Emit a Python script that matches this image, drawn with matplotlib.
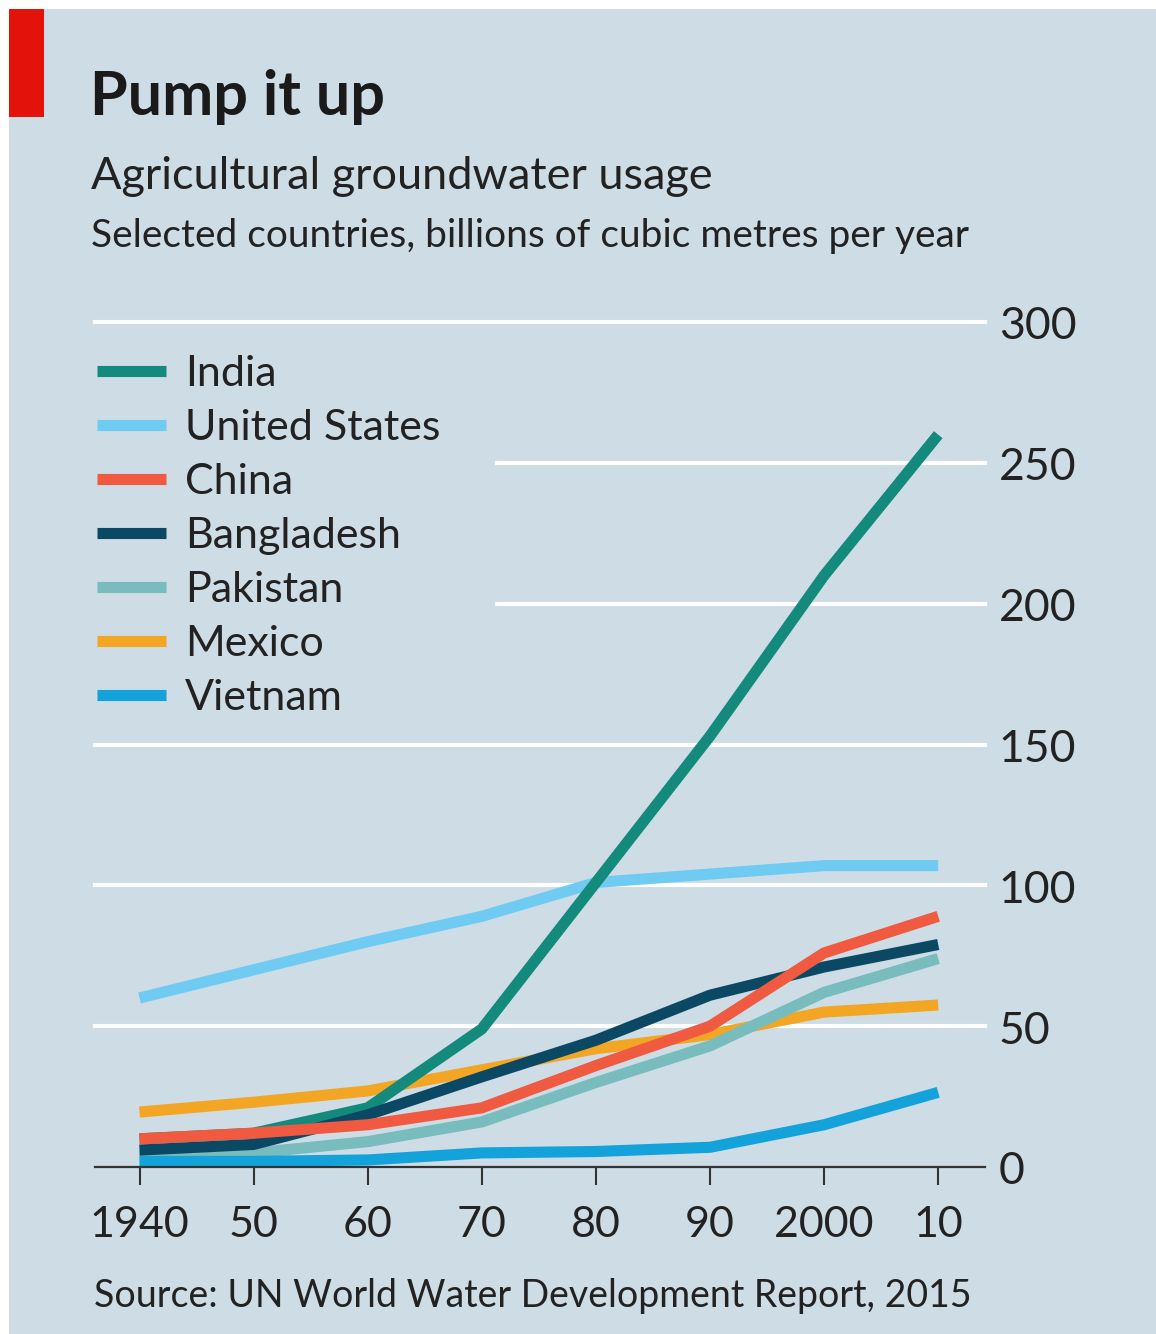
import matplotlib
matplotlib.use('Agg')
import matplotlib.pyplot as plt
import matplotlib.transforms as mtransforms
from matplotlib.patches import Rectangle

# ---- data (billions of cubic metres per year) ----
years = [1940, 1950, 1960, 1970, 1980, 1990, 2000, 2010]
year_labels = ["1940", "50", "60", "70", "80", "90", "2000", "10"]
y_ticks = [0, 50, 100, 150, 200, 250, 300]

countries = ["India", "United States", "China", "Bangladesh", "Pakistan", "Mexico", "Vietnam"]
india = [10, 12, 21, 49, 101, 153, 210, 260]
united_states = [60, 70, 80, 89, 101, 104, 107, 107]
china = [10, 12, 15, 21, 36, 50, 76, 89]
bangladesh = [6, 8, 18.5, 32, 45, 61, 71, 79]
pakistan = [4, 5, 9, 16, 30, 43, 62, 74]
mexico = [19.5, 23, 27, 34.5, 42, 47, 55, 57.5]
vietnam = [2, 2, 2.5, 5, 5.5, 7, 15, 26.5]

series = [india, united_states, china, bangladesh, pakistan, mexico, vietnam]
colors = ["#138a7c", "#6fcbf2", "#ef5a40", "#0b4863", "#78bcbd", "#f2a623", "#14a2da"]
zorders = [7, 4, 9, 8, 5, 3, 6]

BG = "#cddce5"
FONT = 'Lato'
plt.rcParams['font.family'] = [FONT, 'DejaVu Sans']

W, H = 1156, 1334
fig = plt.figure(figsize=(W / 100, H / 100), dpi=100)
fig.patch.set_facecolor('white')
fig.patches.append(Rectangle((9 / W, 0), 1 - 9 / W, 1 - 9 / H, transform=fig.transFigure,
                             facecolor=BG, edgecolor='none', zorder=-10))
fig.patches.append(Rectangle((9 / W, 1 - 117 / H), 35 / W, 108 / H, transform=fig.transFigure,
                             facecolor='#e3120b', edgecolor='none', zorder=-9))

def fx(px):
    return px / W

def fy(px):
    return 1 - px / H

fig.text(fx(90), fy(115), "Pump it up", fontsize=44, fontweight='bold', color='#1a1a1a', va='baseline')
fig.text(fx(91), fy(189), "Agricultural groundwater usage", fontsize=32.5, color='#222222', va='baseline')
fig.text(fx(91), fy(247), "Selected countries, billions of cubic metres per year", fontsize=28,
         color='#222222', va='baseline')
fig.text(fx(94), fy(1307), "Source: UN World Water Development Report, 2015", fontsize=27,
         color='#222222', va='baseline')

ax_left, ax_right = 95, 985
ax_top, ax_bottom = 322, 1167
ax = fig.add_axes([fx(ax_left), fy(ax_bottom), (ax_right - ax_left) / W, (ax_bottom - ax_top) / H])
ax.set_facecolor('none')
ax.set_xlim(1936.1, 2014.1)
ax.set_ylim(0, 300)

# gridlines (white), shortened where the legend sits
for t in y_ticks[1:]:
    xmin = 0.452 if t in (200, 250) else 0.0
    ax.axhline(t, xmin=xmin, xmax=1, color='white', lw=3, zorder=1, clip_on=False)

for name, vals, c, z in zip(countries, series, colors, zorders):
    ax.plot(years, vals, color=c, lw=8, label=name, zorder=z, clip_on=False,
            solid_capstyle='butt', solid_joinstyle='round')

for s in ['top', 'left', 'right']:
    ax.spines[s].set_visible(False)
ax.spines['bottom'].set_color('#333333')
ax.spines['bottom'].set_linewidth(1.6)
ax.spines['bottom'].set_zorder(10)

ax.set_xticks(years)
ax.set_xticklabels(year_labels)
ax.tick_params(axis='x', direction='out', length=13, width=1.5, color='#333333',
               labelsize=31, labelcolor='#222222', pad=15)
ax.yaxis.tick_right()
ax.set_yticks(y_ticks)
ax.set_yticklabels([str(t) for t in y_ticks])
ax.tick_params(axis='y', length=0, labelsize=32, labelcolor='#222222', pad=10)
shift = mtransforms.ScaledTranslation(0, -5 / 100, fig.dpi_scale_trans)
for lab in ax.get_yticklabels():
    lab.set_va('center')
    lab.set_transform(lab.get_transform() + shift)

leg = ax.legend(loc='upper left', bbox_to_anchor=(fx(97), fy(355)), bbox_transform=fig.transFigure,
                frameon=False, fontsize=31, handlelength=1.6, handletextpad=0.45,
                labelspacing=0.37, borderpad=0, borderaxespad=0)
for line in leg.get_lines():
    line.set_linewidth(8)
    line.set_solid_capstyle('butt')
for txt in leg.get_texts():
    txt.set_color('#222222')

fig.savefig('out.png', dpi=100, facecolor=fig.get_facecolor())
